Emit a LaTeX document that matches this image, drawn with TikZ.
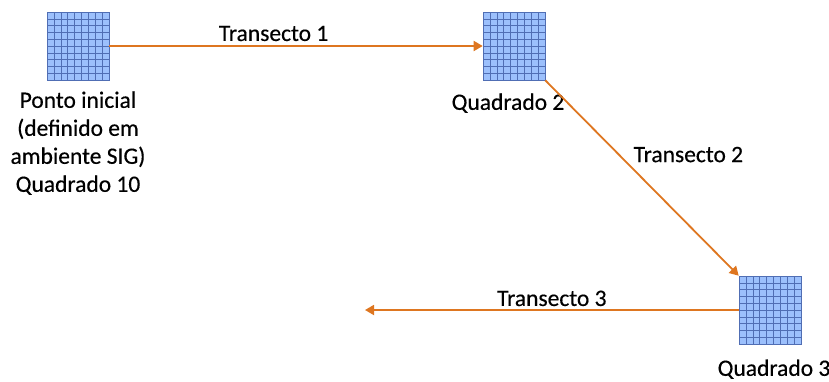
\documentclass[tikz,border=0pt]{standalone}
\usepackage{fontspec}
\setmainfont{Carlito}
\usetikzlibrary{arrows.meta,calc,positioning}

\definecolor{cellblue}{RGB}{156,192,252}
\definecolor{gridblue}{RGB}{80,110,180}
\definecolor{routeorange}{RGB}{222,118,32}

\tikzset{
  quadrat/.style={draw=gridblue, fill=cellblue, line width=0.6pt,
    minimum width=62pt, minimum height=68pt, inner sep=0pt,
    path picture={
      \foreach \k in {1,...,8}
        \draw[gridblue, line width=0.45pt]
          ($(path picture bounding box.south west)!\k/9!(path picture bounding box.south east)$) --
          ($(path picture bounding box.north west)!\k/9!(path picture bounding box.north east)$);
      \foreach \k in {1,...,9}
        \draw[gridblue, line width=0.45pt]
          ($(path picture bounding box.south west)!\k/10!(path picture bounding box.north west)$) --
          ($(path picture bounding box.south east)!\k/10!(path picture bounding box.north east)$);
    }},
  txt/.style={font=\fontsize{23.5}{28}\selectfont\addfontfeature{FakeBold=0.4},
    align=center, inner sep=2pt},
  route/.style={draw=routeorange, line width=1.8pt,
    -{Triangle[length=9pt,width=10pt]}},
}

\begin{document}
\begin{tikzpicture}[x=1pt,y=-1pt]
  \useasboundingbox (0,0) rectangle (829,381);

  % sampling squares
  \node [quadrat] (q10) at (78,46)  {};
  \node [quadrat] (q2)  at (514,46) {};
  \node [quadrat] (q3)  at (770,310) {};
  \coordinate (end3) at (365,310);

  % labels of the squares
  \node [txt, below=9pt of q10] (start) {Ponto inicial\\(definido em\\ambiente SIG)\\Quadrado 10};
  \node [txt, below=11pt of q2, xshift=-6pt] (lq2) {Quadrado 2};
  \node [txt, below=13pt of q3, xshift=4pt] (lq3) {Quadrado 3};

  % transects
  \draw [route] (q10.east) -- node [txt, pos=0.44, above=2pt] (t1) {Transecto 1} (q2.west);
  \draw [route] (q2.south east) -- node [txt, pos=0.38, anchor=west, xshift=12pt] (t2) {Transecto 2} (q3.north west);
  \draw [route] (q3.west) -- node [txt, midway, above=1pt] (t3) {Transecto 3} (end3);
\end{tikzpicture}
\end{document}
